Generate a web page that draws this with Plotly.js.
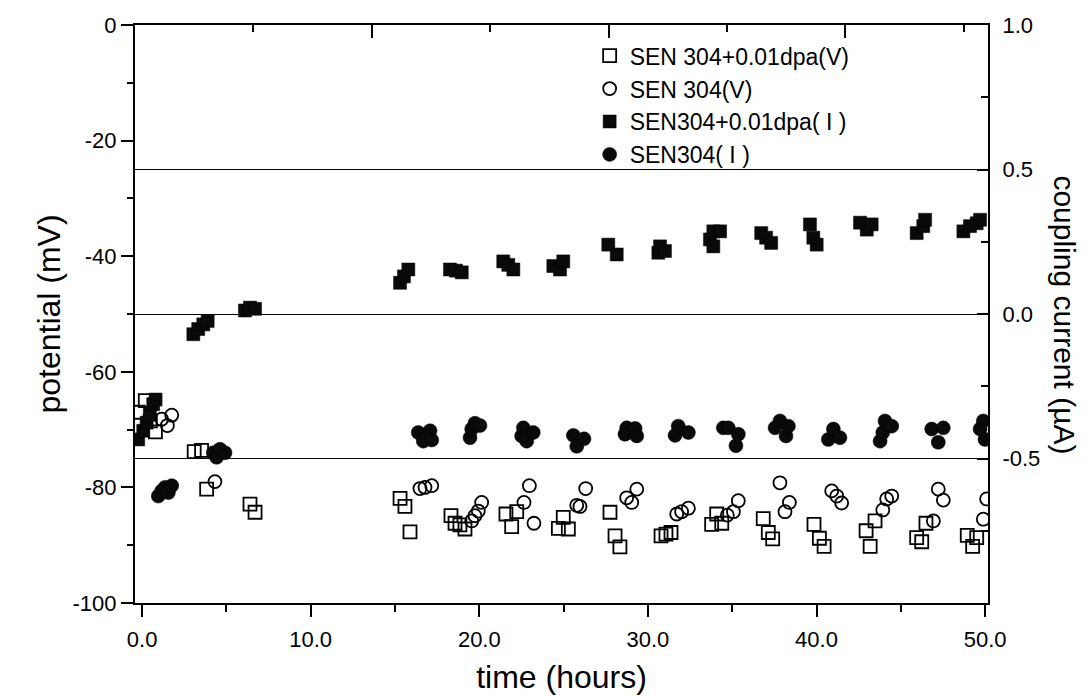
<!DOCTYPE html>
<html>
<head>
<meta charset="utf-8">
<script src="https://cdn.plot.ly/plotly-3.0.1.min.js"></script>
<style>
  html, body { margin: 0; padding: 0; background: #fff; }
  #chart { width: 1090px; height: 697px; }
</style>
</head>
<body>
<div id="chart"></div>
<script>
// ---------- data (time in hours) ----------
// SEN 304+0.01dpa(V) : potential, mV (open squares)
const tDpaV = [-0.22, 0.19, 0.49, 0.79, 3.09, 3.53, 3.83, 6.4, 6.7,
  15.30, 15.59, 15.89, 18.32, 18.56, 18.85, 19.15, 21.58, 22.22, 21.92,
  24.98, 24.69, 25.28, 27.75, 28.05, 28.34, 30.78, 31.07, 31.37,
  34.08, 33.78, 34.38, 36.84, 37.14, 37.40, 39.85, 40.17, 40.45,
  43.47, 42.94, 43.18, 46.49, 45.94, 46.24, 48.94, 49.50, 49.26];
const vDpaV = [-67.0, -65.0, -68.5, -70.4, -73.8, -73.6, -80.3, -82.9, -84.3,
  -81.9, -83.3, -87.7, -84.9, -86.2, -86.5, -87.2, -84.6, -84.2, -86.8,
  -85.2, -87.1, -87.2, -84.3, -88.4, -90.3, -88.4, -88.1, -87.8,
  -84.6, -86.4, -86.2, -85.4, -87.8, -88.9, -86.4, -88.8, -90.2,
  -85.8, -87.5, -90.2, -86.2, -88.7, -89.4, -88.3, -88.7, -90.2];

// SEN 304(V) : potential, mV (open circles)
const tSenV = [1.16, 1.5, 1.76, 4.32,
  16.48, 16.78, 17.18, 20.14, 19.94, 19.74, 19.55, 22.97, 22.65, 23.24,
  26.31, 25.78, 25.97, 29.34, 28.74, 29.04, 31.71, 32.00, 32.40,
  35.36, 35.07, 34.71, 37.83, 38.39, 38.13, 40.90, 41.20, 41.49,
  44.46, 44.16, 43.93, 47.22, 47.52, 46.93, 50.09, 49.89];
const vSenV = [-68.2, -69.3, -67.5, -79.0,
  -80.2, -80.0, -79.7, -82.6, -84.1, -84.9, -85.8, -79.7, -82.6, -86.2,
  -80.2, -83.1, -83.3, -80.3, -81.8, -82.6, -84.6, -84.2, -83.6,
  -82.3, -84.2, -84.8, -79.2, -82.6, -84.2, -80.6, -81.5, -82.7,
  -81.5, -82.0, -83.9, -80.3, -82.2, -85.8, -82.0, -85.5];

// SEN304+0.01dpa( I ) : coupling current, uA (filled squares)
const tDpaI = [-0.23, 0.07, 0.27, 0.46, 0.66, 0.80, 3.04, 3.33, 3.63, 3.89, 6.1, 6.4, 6.7,
  15.30, 15.53, 15.79, 18.26, 18.62, 18.96, 21.42, 21.72, 22.02, 24.39, 24.79, 24.98,
  27.65, 28.15, 30.62, 30.72, 31.01, 33.68, 33.88, 33.88, 34.28,
  36.72, 37.01, 37.31, 39.61, 39.81, 40.01, 42.58, 42.98, 43.27,
  45.94, 46.33, 46.44, 48.71, 49.10, 49.50, 49.70];
const iDpaI = [-0.434, -0.404, -0.376, -0.348, -0.312, -0.296, -0.070, -0.052, -0.036, -0.024, 0.012, 0.022, 0.018,
  0.108, 0.130, 0.154, 0.154, 0.150, 0.144, 0.182, 0.170, 0.154, 0.166, 0.154, 0.182,
  0.240, 0.206, 0.212, 0.234, 0.218, 0.258, 0.286, 0.234, 0.286,
  0.280, 0.264, 0.246, 0.310, 0.264, 0.240, 0.316, 0.292, 0.310,
  0.280, 0.304, 0.326, 0.286, 0.304, 0.314, 0.326];

// SEN304( I ) : coupling current, uA (filled circles)
const tSenI = [0.96, 1.16, 1.36, 1.56, 1.76, 4.22, 4.42, 4.62, 4.92,
  16.38, 16.68, 17.08, 17.18, 19.45, 19.55, 19.74, 20.04,
  22.51, 22.61, 22.81, 23.20, 25.58, 25.78, 26.21,
  28.64, 28.74, 29.24, 29.34, 31.61, 31.80, 32.40,
  34.47, 34.77, 35.22, 35.36, 37.54, 37.83, 38.19, 38.33,
  40.70, 41.00, 41.39, 43.77, 43.93, 44.06, 44.46,
  46.83, 47.22, 47.52, 49.70, 49.89, 49.99];
const iSenI = [-0.630, -0.612, -0.600, -0.618, -0.594, -0.480, -0.496, -0.468, -0.480,
  -0.410, -0.440, -0.404, -0.436, -0.428, -0.398, -0.378, -0.386,
  -0.422, -0.394, -0.440, -0.410, -0.420, -0.458, -0.432,
  -0.416, -0.394, -0.396, -0.422, -0.420, -0.388, -0.410,
  -0.394, -0.394, -0.456, -0.416, -0.394, -0.370, -0.422, -0.388,
  -0.434, -0.398, -0.428, -0.440, -0.410, -0.370, -0.388,
  -0.398, -0.444, -0.394, -0.398, -0.370, -0.434];

// ---------- tick labels ----------
const xTickVals = [0, 10, 20, 30, 40, 50];
const xTickText = ['0.0', '10.0', '20.0', '30.0', '40.0', '50.0'];
const xMinorVals = [5, 15, 25, 35, 45];
const yTickVals = [0, -20, -40, -60, -80, -100];
const yTickText = ['0', '-20', '-40', '-60', '-80', '-100'];
const yMinorVals = [-10, -30, -50, -70, -90];
const y2TickVals = [1.0, 0.5, 0.0, -0.5];
const y2TickText = ['1.0', '0.5', '0.0', '-0.5'];
const y2MinorVals = [0.75, 0.25, -0.25, -0.75];
const x2TickVals = [2, 4, 6];
const x2MinorVals = [1, 3, 5, 7];

const names = ['SEN 304+0.01dpa(V)', 'SEN 304(V)', 'SEN304+0.01dpa( I )', 'SEN304( I )'];

const FONT = 'Liberation Sans, Arial, Helvetica, sans-serif';

const traces = [
  { x: tDpaV, y: vDpaV, name: names[0], type: 'scatter', mode: 'markers', xaxis: 'x', yaxis: 'y',
    marker: { symbol: 'square-open', size: 13, color: '#000', line: { width: 1.8, color: '#000' } } },
  { x: tSenV, y: vSenV, name: names[1], type: 'scatter', mode: 'markers', xaxis: 'x', yaxis: 'y',
    marker: { symbol: 'circle-open', size: 13, color: '#000', line: { width: 1.8, color: '#000' } } },
  { x: tDpaI, y: iDpaI, name: names[2], type: 'scatter', mode: 'markers', xaxis: 'x', yaxis: 'y2',
    marker: { symbol: 'square', size: 13, color: '#0a0a0a', line: { width: 0.5, color: '#000' } } },
  { x: tSenI, y: iSenI, name: names[3], type: 'scatter', mode: 'markers', xaxis: 'x', yaxis: 'y2',
    marker: { symbol: 'circle', size: 14, color: '#0a0a0a', line: { width: 0.5, color: '#000' } } },
  { x: [], y: [], xaxis: 'x2', yaxis: 'y', type: 'scatter', mode: 'markers', showlegend: false, hoverinfo: 'skip' }
];

const layout = {
  width: 1090, height: 697,
  margin: { l: 135, r: 102, t: 25, b: 94, pad: 0 },
  paper_bgcolor: '#fff', plot_bgcolor: '#fff',
  font: { family: FONT, color: '#000', size: 22 },
  showlegend: true,
  legend: {
    x: 0.533, y: 0.984, xanchor: 'left', yanchor: 'top',
    bgcolor: 'rgba(0,0,0,0)', borderwidth: 0,
    font: { family: FONT, size: 23, color: '#000' },
    tracegroupgap: 0
  },
  xaxis: {
    range: [-0.42, 50.17], tickmode: 'array', tickvals: xTickVals, ticktext: xTickText,
    ticks: 'outside', ticklen: 12, tickwidth: 2, tickcolor: '#000',
    minor: { tickmode: 'array', tickvals: xMinorVals, ticks: 'outside', ticklen: 7, tickwidth: 2, tickcolor: '#000', showgrid: false },
    showline: true, linewidth: 2, linecolor: '#000', showgrid: false, zeroline: false,
    tickfont: { family: FONT, size: 22 }, ticklabelstandoff: 4,
    title: { text: 'time (hours)', font: { family: FONT, size: 32 }, standoff: 14 }
  },
  xaxis2: {
    overlaying: 'x', side: 'top', anchor: 'y', range: [0, 7.204],
    tickmode: 'array', tickvals: x2TickVals, showticklabels: false,
    ticks: 'inside', ticklen: 13, tickwidth: 2, tickcolor: '#000',
    minor: { tickmode: 'array', tickvals: x2MinorVals, ticks: 'inside', ticklen: 7, tickwidth: 2, tickcolor: '#000', showgrid: false },
    showline: true, linewidth: 2, linecolor: '#000', showgrid: false, zeroline: false
  },
  yaxis: {
    range: [-100, 0], tickmode: 'array', tickvals: yTickVals, ticktext: yTickText,
    ticks: 'outside', ticklen: 12, tickwidth: 2, tickcolor: '#000',
    minor: { tickmode: 'array', tickvals: yMinorVals, ticks: 'outside', ticklen: 6, tickwidth: 2, tickcolor: '#000', showgrid: false },
    showline: true, linewidth: 2, linecolor: '#000', showgrid: false, zeroline: false,
    tickfont: { family: FONT, size: 22 }, ticklabelstandoff: 0,
    title: { text: 'potential (mV)', font: { family: FONT, size: 32 }, standoff: 2 }
  },
  yaxis2: {
    overlaying: 'y', side: 'right', anchor: 'x', range: [-1, 1],
    tickmode: 'array', tickvals: y2TickVals, ticktext: y2TickText,
    ticks: 'inside', ticklen: 11, tickwidth: 2, tickcolor: '#000',
    minor: { tickmode: 'array', tickvals: y2MinorVals, ticks: 'inside', ticklen: 7, tickwidth: 2, tickcolor: '#000', showgrid: false },
    showline: true, linewidth: 2, linecolor: '#000',
    showgrid: true, gridcolor: '#000', gridwidth: 1, zeroline: false,
    tickfont: { family: FONT, size: 22 }, ticklabelstandoff: 8
  },
  annotations: [{
    text: 'coupling current (\u00b5A)', xref: 'paper', yref: 'paper',
    x: 1.09, y: 0.498, xanchor: 'center', yanchor: 'middle',
    textangle: 90, showarrow: false, font: { family: FONT, size: 30, color: '#000' }
  }]
};

Plotly.newPlot('chart', traces, layout, { displayModeBar: false, staticPlot: true });
</script>
</body>
</html>
